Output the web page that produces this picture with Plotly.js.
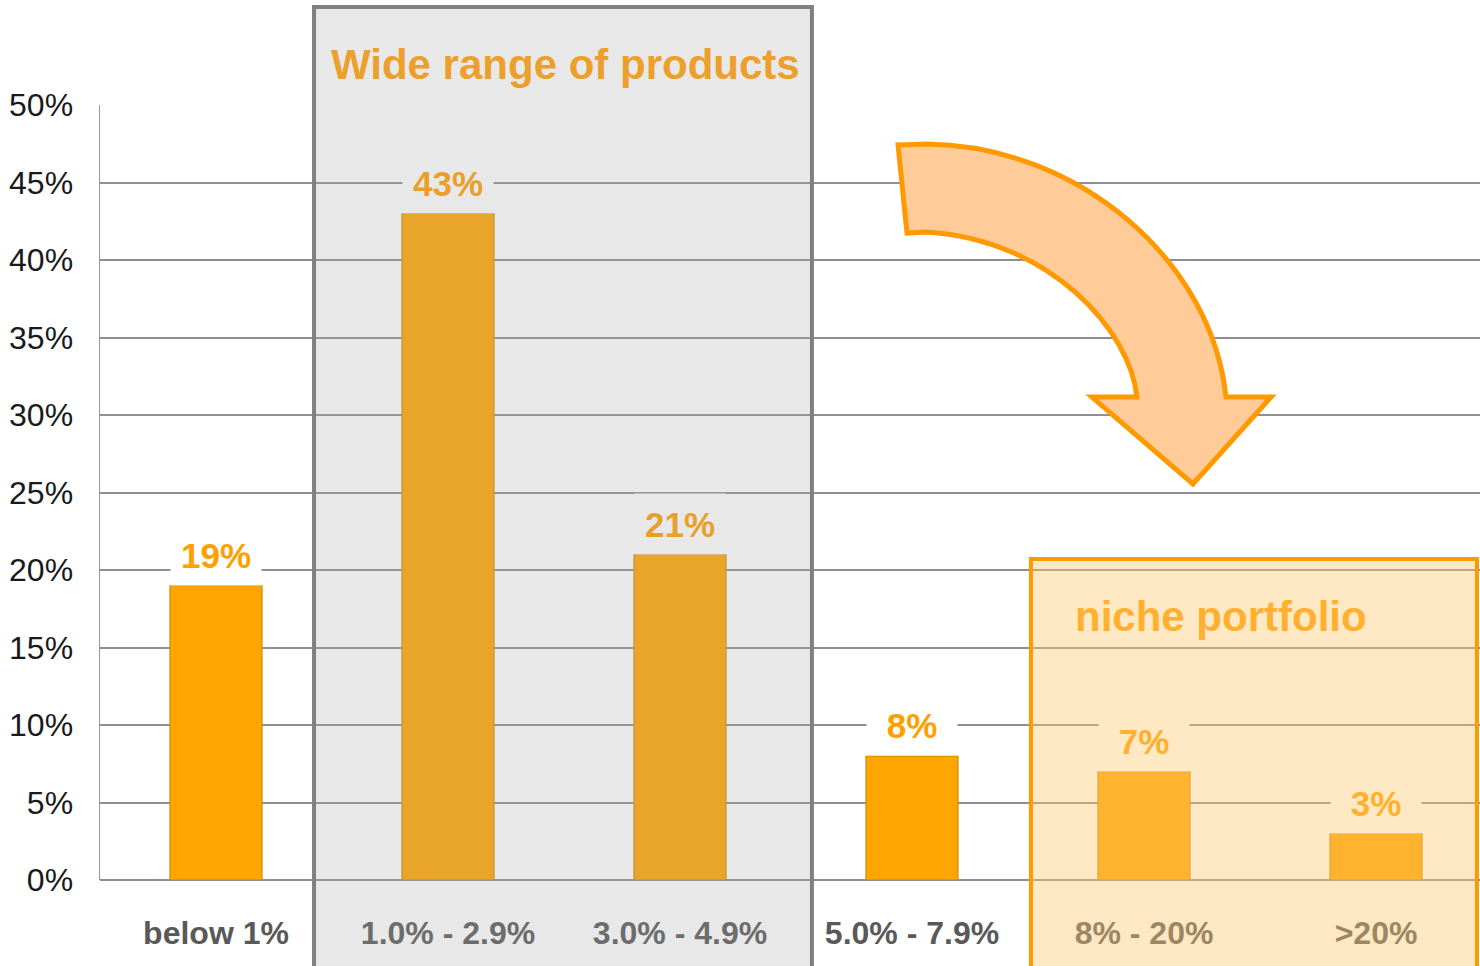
<!DOCTYPE html>
<html>
<head>
<meta charset="utf-8">
<script src="https://cdn.plot.ly/plotly-3.0.1.min.js"></script>
<style>html,body{margin:0;padding:0;background:#fff;}#chart{width:1480px;height:966px;}</style>
</head>
<body>
<div id="chart"></div>
<script>
var categories = ['below 1%', '1.0% - 2.9%', '3.0% - 4.9%', '5.0% - 7.9%', '8% - 20%', '>20%'];
var shares = [19, 43, 21, 8, 7, 3];
var yTickValues = [0, 5, 10, 15, 20, 25, 30, 35, 40, 45, 50];
var yTickLabels = ['0%', '5%', '10%', '15%', '20%', '25%', '30%', '35%', '40%', '45%', '50%'];
var wideGroup = ['1.0% - 2.9%', '3.0% - 4.9%'];
var nicheGroup = ['8% - 20%', '>20%'];
var wideTitle = 'Wide range of products';
var nicheTitle = 'niche portfolio';

// plot area geometry (pixels) for decorative shapes
var L = 100, R = 1480, T = 105, B = 880;
var catStep = 232; // px per category in the reference (plot runs slightly past the right edge)
function px(x) { return ((x - L) / (R - L)).toFixed(4); }
function py(y) { return ((B - y) / (B - T)).toFixed(4); }
function P(x, y) { return px(x) + ',' + py(y); }

var arrowPath = 'M ' + P(898, 145) + ' L ' + P(927, 144) +
  ' C ' + P(1080, 146) + ' ' + P(1212, 262) + ' ' + P(1226, 397) +
  ' L ' + P(1271, 397) + ' L ' + P(1193, 484) + ' L ' + P(1092, 397) +
  ' L ' + P(1137, 397) +
  ' C ' + P(1130, 330) + ' ' + P(1050, 240) + ' ' + P(927, 232) +
  ' L ' + P(907, 233) + ' Z';

var fontFam = 'Liberation Sans, Arial, sans-serif';

var annotations = categories.map(function (c, i) {
  var col = '#FFA000', bg = '#FFFFFF';
  if (wideGroup.indexOf(c) >= 0) { col = '#E9A02A'; bg = '#E8E8E8'; }
  if (nicheGroup.indexOf(c) >= 0) { col = '#FFB02E'; bg = '#FFE9C4'; }
  return {
    x: c, y: shares[i], xref: 'x', yref: 'y',
    text: shares[i] + '%', showarrow: false, yanchor: 'middle', yshift: 31,
    font: {family: fontFam, size: 35, color: col, weight: 'bold'},
    bgcolor: bg, width: 72, height: 42, borderpad: 9
  };
});
annotations.push({
  xref: 'paper', yref: 'paper', x: px(565), y: py(64), text: '<b>' + wideTitle + '</b>',
  showarrow: false, xanchor: 'center', yanchor: 'middle',
  font: {family: fontFam, size: 42, color: '#EC9F2B'}
});
annotations.push({
  xref: 'paper', yref: 'paper', x: px(1221), y: py(616), text: '<b>' + nicheTitle + '</b>',
  showarrow: false, xanchor: 'center', yanchor: 'middle',
  font: {family: fontFam, size: 42, color: '#FFB02E'}
});

var trace = {
  type: 'bar', x: categories, y: shares,
  marker: {color: '#FFA500', line: {color: '#C98500', width: 1}},
  hoverinfo: 'skip'
};

var layout = {
  width: 1480, height: 966,
  margin: {l: L, r: 1480 - R, t: T, b: 966 - B},
  paper_bgcolor: '#FFFFFF', plot_bgcolor: '#FFFFFF',
  showlegend: false,
  bargap: 0.603,
  xaxis: {
    type: 'category', range: [-0.5, -0.5 + (R - L) / catStep], showgrid: false, zeroline: false,
    showline: false, ticks: '', ticklabelstandoff: 31,
    tickfont: {family: fontFam, size: 32, color: '#595959', weight: 'bold'}
  },
  yaxis: {
    range: [0, 50], tickvals: yTickValues, ticktext: yTickLabels,
    showgrid: true, gridcolor: '#8F8F8F', gridwidth: 2,
    zeroline: true, zerolinecolor: '#8F8F8F', zerolinewidth: 2,
    showline: true, linecolor: '#9A9A9A', linewidth: 1.5,
    ticks: '', ticklabelstandoff: 19,
    tickfont: {family: fontFam, size: 32, color: '#1A1A1A'}
  },
  shapes: [
    {type: 'path', xref: 'paper', yref: 'paper', layer: 'above', path: arrowPath,
     fillcolor: '#FFCC99', line: {color: '#FF9900', width: 5}},
    {type: 'rect', xref: 'paper', yref: 'paper', layer: 'above',
     x0: px(314), x1: px(812), y0: py(975), y1: py(7),
     fillcolor: 'rgba(165,165,165,0.255)', line: {color: '#808080', width: 4}},
    {type: 'rect', xref: 'paper', yref: 'paper', layer: 'above',
     x0: px(1031), x1: px(1477), y0: py(975), y1: py(559),
     fillcolor: 'rgba(255,200,112,0.41)', line: {color: '#FF9900', width: 4}}
  ],
  annotations: annotations
};

Plotly.newPlot('chart', [trace], layout, {displayModeBar: false, staticPlot: true});
</script>
</body>
</html>
